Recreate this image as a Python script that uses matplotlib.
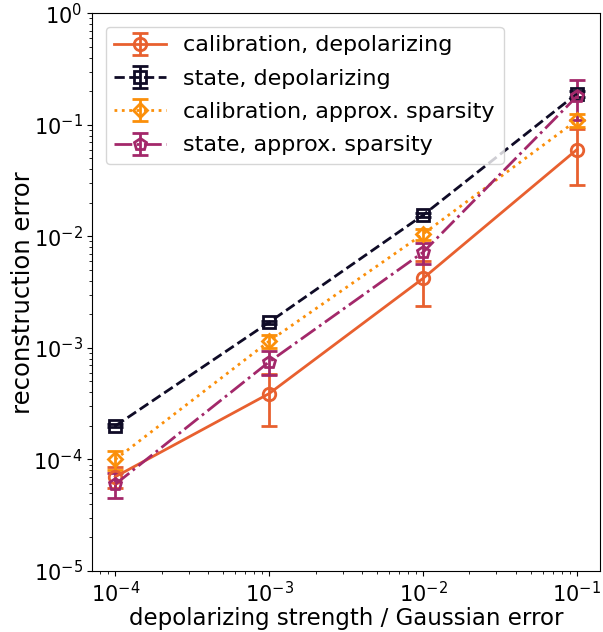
import matplotlib
matplotlib.use("Agg")
import matplotlib.pyplot as plt
import numpy as np

x = [1e-4, 1e-3, 1e-2, 1e-1]
cal_dep = [7e-5, 3.9e-4, 4.2e-3, 0.06]
cal_dep_err = [1.5e-5, 1.9e-4, 1.8e-3, 0.031]
state_dep = [2.0e-4, 1.7e-3, 1.55e-2, 0.19]
state_dep_err = [6e-6, 6e-5, 6e-4, 0.012]
cal_sp = [1.0e-4, 1.15e-3, 1.05e-2, 0.11]
cal_sp_err = [2e-5, 1.5e-4, 1.2e-3, 0.015]
state_sp = [6e-5, 7.5e-4, 7.2e-3, 0.18]
state_sp_err = [1.5e-5, 1.8e-4, 1.5e-3, 0.07]

labels = ["calibration, depolarizing", "state, depolarizing",
          "calibration, approx. sparsity", "state, approx. sparsity"]

plt.rcParams['font.size'] = 15
fig = plt.figure(figsize=(6.03, 6.32), dpi=100)
ax = fig.add_axes([0.153, 0.0965, 0.842, 0.8825])

series = [
    (cal_dep, cal_dep_err, '#e8602f', 'o', '-'),
    (state_dep, state_dep_err, '#0f0b26', 's', '--'),
    (cal_sp, cal_sp_err, '#fb8f0a', 'D', ':'),
    (state_sp, state_sp_err, '#a3286a', 'p', '-.'),
]
for (y, e, c, m, ls), lab in zip(series, labels):
    ax.errorbar(x, y, yerr=e, color=c, marker=m, linestyle=ls, lw=2,
                markersize=9 if m != 'D' else 7.5, markerfacecolor='none',
                markeredgewidth=2, capsize=6, capthick=2, elinewidth=2,
                label=lab)

ax.set_xscale('log')
ax.set_yscale('log')
ax.set_ylim(1e-5, 1)
ax.set_xlabel('depolarizing strength / Gaussian error', fontsize=16.5, labelpad=1)
ax.set_ylabel('reconstruction error', fontsize=17.5, labelpad=-1)
ax.legend(loc='upper left', fontsize=16, handlelength=2.3,
          borderaxespad=0.6, labelspacing=0.6)
fig.savefig('out.png', dpi=100)
